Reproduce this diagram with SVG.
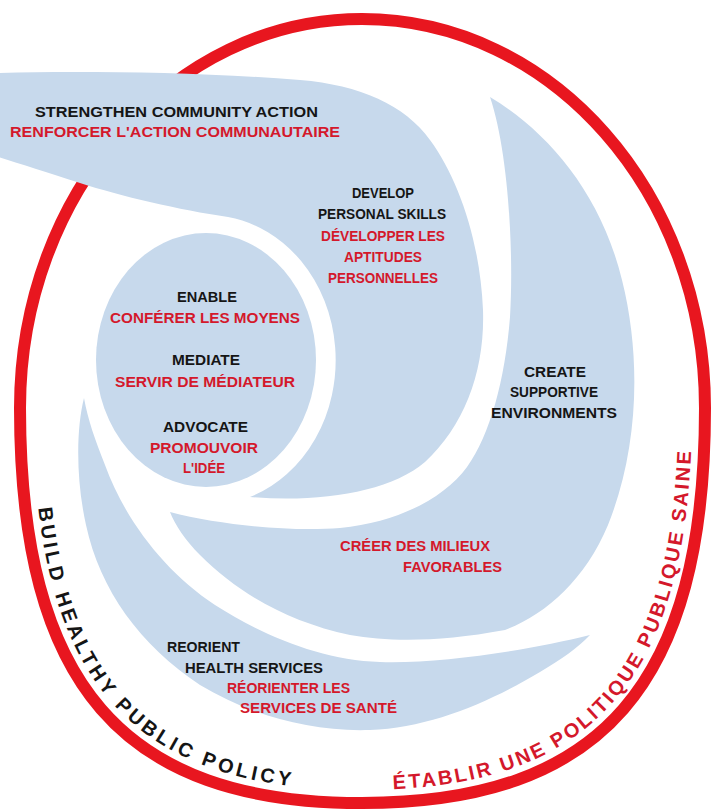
<svg xmlns="http://www.w3.org/2000/svg" width="711" height="809" viewBox="0 0 711 809">
<style>
.blue{fill:#c7d9ec}
.ring{fill:none;stroke:#e8161f;stroke-width:12}
text{font-family:"Liberation Sans",Arial,sans-serif;font-weight:bold;font-size:14px}
.k{fill:#151515}
.r{fill:#d4182b}
.cv{font-size:20px}
</style>
<defs>
<path id="pl" d="M 33 408 C 33 678 128 790 362 790"/>
<path id="pr" d="M 362 790 C 596 790 692 678 692 408"/>
</defs>
<rect width="711" height="809" fill="#ffffff"/>
<g id="ring">
<path class="ring" d="M 20 408 C 20 193 173 19 362 19 C 552 19 705 193 705 408 C 705 684 602 803 362 803 C 122 803 20 684 20 408 Z"/>
</g>
<g id="arm-create">
<path class="blue" d="M 490 97 C 545 130 600 190 622 280 C 642 360 638 450 608 525 C 585 580 545 615 505 630 C 440 642 390 642 350 635 C 290 622 240 595 200 555 C 185 540 175 525 170 512 C 220 525 290 532 340 528 C 400 522 445 497 467 467 C 490 435 505 380 510 317 C 514 250 508 150 490 97 Z"/>
</g>
<g id="arm-reorient">
<path class="blue" d="M 590 635 C 530 650 440 664 380 662 C 320 660 262 635 215 605 C 165 572 125 520 105 465 C 95 440 88 420 84 398 C 76 430 76 480 86 525 C 100 590 140 645 200 685 C 250 715 310 732 370 730 C 430 728 490 702 540 672 C 560 660 578 648 590 635 Z"/>
</g>
<g id="arm-community">
<path class="blue" d="M -5 73 C 80 71 200 72 300 80 C 360 85 405 105 430 140 C 458 178 480 240 483 310 C 485 370 465 425 425 462 C 390 492 320 503 250 497 A 128 145 0 0 0 228 217 C 180 210 120 196 80 183 C 45 172 15 162 -5 156 Z"/>
</g>
<g id="ball">
<ellipse class="blue" cx="206" cy="360" rx="110" ry="127"/>
</g>
<g id="labels-community">
<text class="k" x="35" y="117" textLength="283" lengthAdjust="spacingAndGlyphs">STRENGTHEN COMMUNITY ACTION</text>
<text class="r" x="10" y="137" textLength="330" lengthAdjust="spacingAndGlyphs">RENFORCER L'ACTION COMMUNAUTAIRE</text>
</g>
<g id="labels-skills">
<text class="k" x="352" y="198" textLength="62" lengthAdjust="spacingAndGlyphs">DEVELOP</text>
<text class="k" x="318" y="219" textLength="128" lengthAdjust="spacingAndGlyphs">PERSONAL SKILLS</text>
<text class="r" x="321" y="241" textLength="124" lengthAdjust="spacingAndGlyphs">DÉVELOPPER LES</text>
<text class="r" x="344" y="262" textLength="78" lengthAdjust="spacingAndGlyphs">APTITUDES</text>
<text class="r" x="328" y="283" textLength="110" lengthAdjust="spacingAndGlyphs">PERSONNELLES</text>
</g>
<g id="labels-center">
<text class="k" x="177" y="302" textLength="60" lengthAdjust="spacingAndGlyphs">ENABLE</text>
<text class="r" x="110" y="323" textLength="190" lengthAdjust="spacingAndGlyphs">CONFÉRER LES MOYENS</text>
<text class="k" x="172" y="365" textLength="68" lengthAdjust="spacingAndGlyphs">MEDIATE</text>
<text class="r" x="115" y="387" textLength="180" lengthAdjust="spacingAndGlyphs">SERVIR DE MÉDIATEUR</text>
<text class="k" x="163" y="432" textLength="85" lengthAdjust="spacingAndGlyphs">ADVOCATE</text>
<text class="r" x="150" y="453" textLength="108" lengthAdjust="spacingAndGlyphs">PROMOUVOIR</text>
<text class="r" x="183" y="473" textLength="42" lengthAdjust="spacingAndGlyphs">L'IDÉE</text>
</g>
<g id="labels-environments">
<text class="k" x="524" y="377" textLength="62" lengthAdjust="spacingAndGlyphs">CREATE</text>
<text class="k" x="510" y="397" textLength="88" lengthAdjust="spacingAndGlyphs">SUPPORTIVE</text>
<text class="k" x="491" y="418" textLength="126" lengthAdjust="spacingAndGlyphs">ENVIRONMENTS</text>
<text class="r" x="340" y="551" textLength="150" lengthAdjust="spacingAndGlyphs">CRÉER DES MILIEUX</text>
<text class="r" x="403" y="572" textLength="99" lengthAdjust="spacingAndGlyphs">FAVORABLES</text>
</g>
<g id="labels-services">
<text class="k" x="167" y="652" textLength="73" lengthAdjust="spacingAndGlyphs">REORIENT</text>
<text class="k" x="185" y="673" textLength="138" lengthAdjust="spacingAndGlyphs">HEALTH SERVICES</text>
<text class="r" x="227" y="693" textLength="123" lengthAdjust="spacingAndGlyphs">RÉORIENTER LES</text>
<text class="r" x="240" y="713" textLength="157" lengthAdjust="spacingAndGlyphs">SERVICES DE SANTÉ</text>
</g>
<g id="labels-policy">
<text class="k cv"><textPath href="#pl" startOffset="100" textLength="413">BUILD HEALTHY PUBLIC POLICY</textPath></text>
<text class="r cv"><textPath href="#pr" startOffset="31" textLength="511">ÉTABLIR UNE POLITIQUE PUBLIQUE SAINE</textPath></text>
</g>
</svg>
